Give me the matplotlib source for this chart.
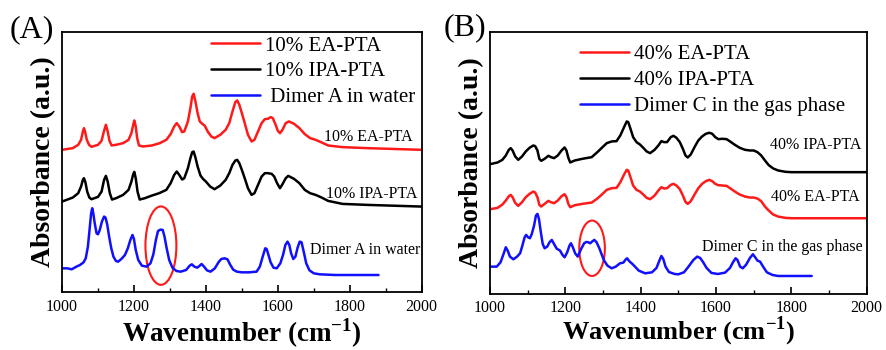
import matplotlib
matplotlib.use("Agg")
import matplotlib.pyplot as plt
from matplotlib.patches import Ellipse
from matplotlib.ticker import MultipleLocator

plt.rcParams['font.family'] = ['Liberation Serif', 'DejaVu Serif']
plt.rcParams['mathtext.fontset'] = 'custom'
plt.rcParams['mathtext.rm'] = 'Liberation Serif'
plt.rcParams['mathtext.bf'] = 'Liberation Serif:bold'

# ---------------- Panel A data ----------------
wn_a_red = [1000, 1030, 1045, 1053, 1058, 1061, 1064, 1069, 1075, 1082, 1100, 1110, 1116, 1122, 1127,
            1132, 1138, 1150, 1170, 1185, 1193, 1198, 1201, 1205, 1209, 1214, 1225, 1250, 1272, 1290,
            1302, 1312, 1319, 1326, 1334, 1340, 1350, 1357, 1362, 1366, 1371, 1377, 1383, 1390, 1397,
            1405, 1415, 1424, 1440, 1455, 1465, 1474, 1482, 1487, 1493, 1500, 1508, 1517, 1527, 1535,
            1545, 1555, 1564, 1573, 1580, 1586, 1594, 1600, 1606, 1613, 1622, 1631, 1645, 1660, 1675,
            1690, 1705, 1720, 1740, 1780, 1850, 2000]
abs_a_red = [4.25, 4.30, 4.40, 4.55, 4.80, 4.90, 4.80, 4.55, 4.40, 4.34, 4.40, 4.52, 4.78, 5.00, 4.80,
             4.52, 4.38, 4.40, 4.45, 4.55, 4.75, 5.00, 5.13, 4.95, 4.60, 4.38, 4.35, 4.38, 4.45, 4.55,
             4.72, 4.95, 5.05, 4.95, 4.78, 4.80, 5.10, 5.50, 5.85, 5.93, 5.70, 5.35, 5.10, 5.03, 4.97,
             4.80, 4.65, 4.60, 4.70, 4.85, 5.05, 5.40, 5.68, 5.73, 5.60, 5.35, 5.05, 4.70, 4.50, 4.55,
             4.80, 5.05, 5.17, 5.18, 5.23, 5.20, 5.00, 4.82, 4.75, 4.85, 5.05, 5.10, 5.03, 4.90, 4.72,
             4.60, 4.55, 4.48, 4.38, 4.33, 4.30, 4.25]

wn_a_black = [1000, 1030, 1045, 1053, 1058, 1061, 1065, 1070, 1076, 1082, 1100, 1110, 1117, 1122, 1127,
              1133, 1139, 1150, 1170, 1185, 1193, 1198, 1201, 1205, 1210, 1216, 1230, 1250, 1270, 1290,
              1302, 1312, 1319, 1326, 1334, 1340, 1350, 1357, 1362, 1366, 1371, 1377, 1385, 1392, 1400,
              1412, 1424, 1440, 1455, 1465, 1474, 1482, 1487, 1493, 1500, 1508, 1517, 1527, 1535, 1545,
              1555, 1564, 1573, 1583, 1590, 1598, 1606, 1613, 1622, 1629, 1645, 1660, 1675, 1690, 1705,
              1720, 1740, 1780, 1850, 2000]
abs_a_black = [2.70, 2.82, 2.95, 3.15, 3.35, 3.40, 3.28, 3.00, 2.82, 2.77, 2.84, 3.00, 3.35, 3.47, 3.30,
               2.95, 2.76, 2.80, 2.90, 3.05, 3.30, 3.52, 3.59, 3.40, 3.00, 2.76, 2.80, 2.88, 2.95, 3.05,
               3.25, 3.50, 3.60, 3.50, 3.36, 3.40, 3.70, 4.00, 4.18, 4.20, 4.02, 3.75, 3.48, 3.38, 3.30,
               3.15, 3.07, 3.18, 3.35, 3.55, 3.80, 3.93, 3.95, 3.85, 3.65, 3.40, 3.10, 2.90, 2.95, 3.20,
               3.45, 3.55, 3.55, 3.53, 3.45, 3.25, 3.10, 3.22, 3.40, 3.47, 3.38, 3.25, 3.05, 2.95, 2.90,
               2.83, 2.72, 2.63, 2.60, 2.55]

wn_a_blue = [1000, 1015, 1027, 1040, 1050, 1060, 1066, 1072, 1077, 1081, 1084, 1087, 1091, 1096, 1100,
             1105, 1111, 1117, 1121, 1126, 1131, 1137, 1143, 1150, 1156, 1165, 1175, 1183, 1190, 1196,
             1200, 1205, 1212, 1222, 1235, 1246, 1254, 1261, 1267, 1274, 1280, 1285, 1291, 1298, 1307,
             1318, 1330, 1345, 1355, 1361, 1368, 1376, 1382, 1388, 1395, 1403, 1413, 1425, 1435, 1443,
             1452, 1460, 1467, 1476, 1486, 1500, 1520, 1541, 1550, 1558, 1565, 1569, 1574, 1580, 1588,
             1597, 1607, 1615, 1621, 1627, 1632, 1637, 1643, 1649, 1655, 1661, 1666, 1672, 1679, 1688,
             1700, 1717, 1760, 1880]
abs_a_blue = [0.70, 0.70, 0.67, 0.75, 0.80, 0.88, 1.00, 1.35, 1.90, 2.35, 2.50, 2.35, 2.05, 1.75, 1.72,
              1.85, 2.10, 2.25, 2.22, 2.00, 1.65, 1.30, 1.05, 0.92, 0.90, 0.98, 1.10, 1.30, 1.55, 1.70,
              1.58, 1.25, 0.95, 0.78, 0.75, 0.85, 1.12, 1.55, 1.82, 1.86, 1.85, 1.65, 1.30, 0.95, 0.72,
              0.62, 0.60, 0.65, 0.78, 0.82, 0.75, 0.72, 0.77, 0.83, 0.75, 0.64, 0.60, 0.70, 0.88, 0.98,
              1.00, 0.97, 0.82, 0.66, 0.60, 0.58, 0.58, 0.60, 0.75, 1.05, 1.30, 1.28, 1.10, 0.88, 0.72,
              0.70, 0.85, 1.12, 1.40, 1.50, 1.40, 1.15, 0.98, 1.05, 1.32, 1.50, 1.48, 1.20, 0.85, 0.64,
              0.55, 0.52, 0.50, 0.50]

# ---------------- Panel B data ----------------
wn_b = [1000, 1020, 1033, 1042, 1050, 1055, 1060, 1067, 1075, 1085, 1095, 1105, 1115, 1120, 1126,
        1131, 1136, 1145, 1155, 1162, 1170, 1180, 1190, 1198, 1203, 1208, 1213, 1225, 1245, 1270,
        1285, 1296, 1310, 1323, 1336, 1346, 1356, 1363, 1367, 1373, 1380, 1389, 1398, 1407, 1416,
        1425, 1437, 1447, 1455, 1462, 1470, 1480, 1487, 1495, 1504, 1512, 1519, 1525, 1533, 1543,
        1553, 1563, 1573, 1582, 1590, 1598, 1606, 1617, 1628, 1640, 1650, 1663, 1677, 1690, 1700,
        1710, 1720, 1730, 1740, 1752, 1765, 1785, 1801, 2000]
abs_b_black = [3.89, 3.94, 4.02, 4.15, 4.32, 4.37, 4.30, 4.12, 4.02, 4.12, 4.27, 4.38, 4.45, 4.43, 4.30,
               4.05, 3.99, 4.05, 4.14, 4.10, 4.07, 4.15, 4.30, 4.39, 4.30, 4.08, 3.94, 4.00, 4.05, 4.10,
               4.25, 4.37, 4.52, 4.57, 4.58, 4.75, 5.00, 5.17, 5.15, 4.95, 4.70, 4.55, 4.48, 4.38, 4.27,
               4.22, 4.32, 4.45, 4.58, 4.55, 4.55, 4.70, 4.74, 4.68, 4.55, 4.35, 4.15, 4.09, 4.18, 4.40,
               4.60, 4.72, 4.80, 4.83, 4.80, 4.70, 4.64, 4.65, 4.64, 4.55, 4.47, 4.38, 4.32, 4.30, 4.30,
               4.25, 4.15, 4.00, 3.86, 3.76, 3.70, 3.66, 3.65, 3.65]
abs_b_red = [2.54, 2.58, 2.68, 2.80, 2.93, 2.97, 2.90, 2.73, 2.64, 2.75, 2.90, 3.00, 3.07, 3.04, 2.90,
             2.67, 2.62, 2.70, 2.79, 2.75, 2.72, 2.80, 2.93, 2.99, 2.90, 2.70, 2.60, 2.66, 2.70, 2.74,
             2.86, 2.97, 3.12, 3.17, 3.18, 3.35, 3.58, 3.72, 3.70, 3.50, 3.25, 3.12, 3.07, 2.98, 2.88,
             2.84, 2.95, 3.10, 3.20, 3.16, 3.17, 3.27, 3.30, 3.25, 3.14, 2.95, 2.76, 2.70, 2.78, 2.98,
             3.17, 3.30, 3.38, 3.42, 3.38, 3.30, 3.26, 3.25, 3.24, 3.15, 3.07, 2.98, 2.92, 2.89, 2.89,
             2.86, 2.78, 2.62, 2.50, 2.38, 2.32, 2.28, 2.27, 2.27]

wn_b_blue = [1000, 1018, 1028, 1036, 1042, 1047, 1053, 1062, 1072, 1080, 1086, 1092, 1096, 1101, 1106,
             1111, 1117, 1122, 1126, 1130, 1135, 1140, 1145, 1152, 1158, 1164, 1170, 1177, 1186, 1192,
             1198, 1205, 1211, 1215, 1220, 1226, 1233, 1242, 1250, 1256, 1261, 1266, 1272, 1277, 1283,
             1290, 1296, 1303, 1312, 1323, 1334, 1345, 1354, 1360, 1364, 1370, 1378, 1385, 1395, 1412,
             1430, 1442, 1449, 1455, 1460, 1466, 1475, 1490, 1500, 1515, 1527, 1540, 1550, 1558, 1566,
             1575, 1588, 1605, 1624, 1637, 1645, 1652, 1657, 1664, 1671, 1680, 1690, 1698, 1704, 1710,
             1717, 1725, 1735, 1750, 1765, 1854]
abs_b_blue = [0.82, 0.82, 0.95, 1.20, 1.40, 1.30, 1.12, 1.04, 1.12, 1.22, 1.45, 1.70, 1.77, 1.70, 1.67,
              1.80, 2.05, 2.35, 2.40, 2.25, 1.85, 1.50, 1.37, 1.42, 1.55, 1.62, 1.50, 1.36, 1.30, 1.18,
              1.10, 1.25, 1.45, 1.52, 1.40, 1.22, 1.12, 1.35, 1.52, 1.56, 1.55, 1.52, 1.58, 1.62, 1.55,
              1.38, 1.20, 1.00, 0.85, 0.77, 0.82, 0.92, 0.94, 1.03, 1.07, 0.98, 0.90, 0.82, 0.70, 0.62,
              0.65, 0.78, 0.98, 1.14, 1.05, 0.82, 0.66, 0.60, 0.59, 0.65, 0.82, 1.02, 1.12, 1.08, 0.95,
              0.78, 0.63, 0.60, 0.64, 0.78, 0.95, 1.07, 1.02, 0.82, 0.77, 0.88, 1.08, 1.19, 1.10, 1.00,
              0.97, 0.82, 0.65, 0.57, 0.54, 0.54]

legend_a = ['10% EA-PTA', '10% IPA-PTA', ' Dimer A in water']
legend_b = ['40% EA-PTA', '40% IPA-PTA', 'Dimer C in the gas phase']

RED = '#ff1a1a'
BLUE = '#1010ff'
BLACK = '#000000'

fig = plt.figure(figsize=(8.87, 3.5), dpi=100)
axA = fig.add_axes([0.0699, 0.1666, 0.4055, 0.742])
axB = fig.add_axes([0.5524, 0.160, 0.4247, 0.7486])

def style(ax, ytop, pad):
    ax.set_xlim(1000, 2000)
    ax.set_ylim(0, ytop)
    ax.set_yticks([])
    ax.xaxis.set_major_locator(MultipleLocator(200))
    ax.xaxis.set_minor_locator(MultipleLocator(100))
    ax.tick_params(axis='x', which='major', direction='in', length=5, width=1.2, labelsize=11.5, pad=pad)
    ax.tick_params(axis='x', which='minor', direction='in', length=3, width=1.0)
    for s in ax.spines.values():
        s.set_linewidth(1.3)
    ax.set_ylabel('Absorbance (a.u.)', fontsize=20, fontweight='bold', labelpad=4)

kw = dict(lw=1.8, solid_joinstyle='round', solid_capstyle='round')

# Panel A
lA1, = axA.plot(wn_a_red, abs_a_red, color=RED, **kw)
lA2, = axA.plot(wn_a_black, abs_a_black, color=BLACK, **kw)
lA3, = axA.plot(wn_a_blue, abs_a_blue, color=BLUE, **kw)
style(axA, 7.78, 5)
axA.set_xlabel(r'Wavenumber (cm$^{\mathbf{-1}}$)', fontsize=19.5, fontweight='bold', labelpad=1)
axA.add_patch(Ellipse((1275, 1.38), 86, 2.35, fill=False, edgecolor=RED, lw=1.5))
axA.text(1976, 4.62, '10% EA-PTA', ha='right', va='center', fontsize=11.5)
axA.text(1988, 2.93, '10% IPA-PTA', ha='right', va='center', fontsize=11.5)
axA.text(1997, 1.25, 'Dimer A in water', ha='right', va='center', fontsize=11.5)
fig.legend([lA1, lA2, lA3], legend_a, loc='upper left', bbox_to_anchor=(0.2379, 0.897),
           frameon=False, fontsize=15, handlelength=2.35, handletextpad=0.25,
           labelspacing=0.3, borderpad=0, borderaxespad=0)
fig.text(0.011, 0.915, '(A)', fontsize=23, va='center', ha='left')

# Panel B
lB1, = axB.plot(wn_b, abs_b_red, color=RED, **kw)
lB2, = axB.plot(wn_b, abs_b_black, color=BLACK, **kw)
lB3, = axB.plot(wn_b_blue, abs_b_blue, color=BLUE, **kw)
style(axB, 7.85, 4)
axB.set_xlabel(r'Wavenumber (cm$^{\mathbf{-1}}$)', fontsize=19, fontweight='bold', labelpad=-1)
axB.add_patch(Ellipse((1271, 1.37), 68, 1.66, fill=False, edgecolor=RED, lw=1.5))
axB.text(1987, 4.45, '40% IPA-PTA', ha='right', va='center', fontsize=11.5)
axB.text(1982, 2.92, '40% EA-PTA', ha='right', va='center', fontsize=11.5)
axB.text(1988, 1.42, 'Dimer C in the gas phase', ha='right', va='center', fontsize=11.5)
fig.legend([lB1, lB2, lB3], legend_b, loc='upper left', bbox_to_anchor=(0.6539, 0.872),
           frameon=False, fontsize=15, handlelength=2.35, handletextpad=0.25,
           labelspacing=0.3, borderpad=0, borderaxespad=0)
fig.text(0.500, 0.921, '(B)', fontsize=23, va='center', ha='left')

fig.savefig('out.png', dpi=100)
